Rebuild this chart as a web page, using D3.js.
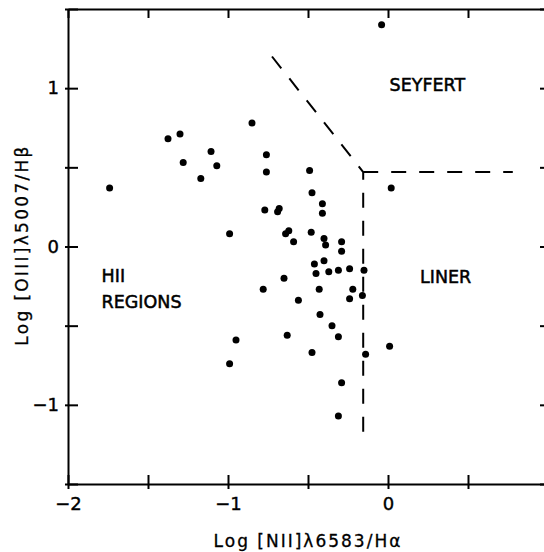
<!DOCTYPE html>
<html>
<head>
<meta charset="utf-8">
<script src="https://cdn.jsdelivr.net/npm/d3@7"></script>
<style>
  body { margin: 0; background: #fff; }
  svg { display: block; }
  text { font-family: 'DejaVu Sans', sans-serif; fill: #000; }
</style>
</head>
<body>
<svg id="chart" width="544" height="552"></svg>
<script>
// one entry per galaxy: log [NII]6583/Ha and log [OIII]5007/Hb
var logNII = [
  -0.04, -1.74, -1.375, -1.30, -1.28, -1.106, -1.07, -1.17, -0.85, -0.76,
  -0.76, -0.49, -0.475, 0.02, -0.41, -0.41, -0.77, -0.69, -0.68, -0.99,
  -0.64, -0.62, -0.59, -0.48, -0.40, -0.39, -0.29, -0.29, -0.46, -0.40,
  -0.45, -0.37, -0.31, -0.24, -0.15, -0.65, -0.78, -0.43, -0.22, -0.56,
  -0.24, -0.16, -0.425, -0.35, -0.63, -0.31, -0.95, -0.475, -0.14, -0.99,
  -0.29, -0.31, 0.01
]
var logOIII = [
  1.40, 0.37, 0.68, 0.71, 0.53, 0.60, 0.51, 0.43, 0.78, 0.58,
  0.47, 0.48, 0.34, 0.37, 0.27, 0.21, 0.23, 0.22, 0.24, 0.08,
  0.08, 0.10, 0.03, 0.09, 0.05, 0.01, 0.03, -0.03, -0.11, -0.09,
  -0.17, -0.16, -0.15, -0.14, -0.15, -0.20, -0.27, -0.27, -0.27, -0.34,
  -0.33, -0.31, -0.43, -0.50, -0.56, -0.57, -0.59, -0.67, -0.68, -0.74,
  -0.86, -1.07, -0.63
]

var xTicks = [-2, -1.5, -1, -0.5, 0, 0.5, 1]
var yTicks = [-1.5, -1, -0.5, 0, 0.5, 1, 1.5]
var xTickLabels = [-2, -1, 0]
var yTickLabels = [-1, 0, 1]

// classification boundaries
var seyfertBoundary = [[-0.725, 1.2], [-0.155, 0.47], [-0.155, -1.22]]
var linerBoundary = [[-0.155, 0.47], [0.78, 0.47]]

var regionNames = ['SEYFERT', 'LINER', 'HII', 'REGIONS']
var regionNII = [0.01, 0.2, -1.79, -1.79]
var regionOIII = [0.98, -0.23, -0.225, -0.39]

var svg = d3.select('#chart')
var x = d3.scaleLinear().domain([-2, 1]).range([68, 548])
var y = d3.scaleLinear().domain([-1.5, 1.5]).range([484, 9])
var fmt = d3.format('d')

function labelIf (list) {
  return function (d) { return list.indexOf(d) >= 0 ? fmt(d) : '' }
}

function styleAxis (g) {
  g.attr('font-family', 'DejaVu Sans, sans-serif').attr('font-size', 18)
  g.select('.domain').attr('stroke', '#000').attr('stroke-width', 2)
  g.selectAll('.tick line').attr('stroke', '#000').attr('stroke-width', 2)
  g.selectAll('.tick text').attr('fill', '#000')
    .attr('stroke', '#000').attr('stroke-width', 0.4)
}

// bottom axis, ticks cross the frame
svg.append('g')
  .attr('transform', 'translate(0,' + y(-1.5) + ')')
  .call(d3.axisBottom(x).tickValues(xTicks).tickSize(5).tickSizeOuter(0)
    .tickPadding(8).tickFormat(labelIf(xTickLabels)))
  .call(styleAxis)
  .call(function (g) { g.selectAll('.tick line').attr('y1', -9) })

// left axis
svg.append('g')
  .attr('transform', 'translate(' + x(-2) + ',0)')
  .call(d3.axisLeft(y).tickValues(yTicks).tickSize(3).tickSizeOuter(0)
    .tickPadding(6).tickFormat(labelIf(yTickLabels)))
  .call(styleAxis)
  .call(function (g) { g.selectAll('.tick line').attr('x1', 10) })

// top and right frame, inward ticks only
svg.append('g')
  .attr('transform', 'translate(0,' + y(1.5) + ')')
  .call(d3.axisTop(x).tickValues(xTicks).tickSize(-9).tickSizeOuter(0).tickFormat(''))
  .call(styleAxis)

svg.append('g')
  .attr('transform', 'translate(' + x(1) + ',0)')
  .call(d3.axisRight(y).tickValues(yTicks).tickSize(-8).tickSizeOuter(0).tickFormat(''))
  .call(styleAxis)

// dashed boundaries
var line = d3.line()
  .x(function (d) { return x(d[0]) })
  .y(function (d) { return y(d[1]) })

svg.selectAll('path.boundary')
  .data([seyfertBoundary, linerBoundary])
  .enter().append('path')
  .attr('class', 'boundary')
  .attr('d', line)
  .attr('fill', 'none')
  .attr('stroke', '#000')
  .attr('stroke-width', 2)
  .attr('stroke-dasharray', '15,13')

// galaxies
svg.selectAll('circle.galaxy')
  .data(d3.range(logNII.length))
  .enter().append('circle')
  .attr('class', 'galaxy')
  .attr('cx', function (i) { return x(logNII[i]) })
  .attr('cy', function (i) { return y(logOIII[i]) })
  .attr('r', 3.5)
  .attr('fill', '#000')

// region names
svg.selectAll('text.region')
  .data(regionNames)
  .enter().append('text')
  .attr('class', 'region')
  .attr('x', function (d, i) { return x(regionNII[i]) })
  .attr('y', function (d, i) { return y(regionOIII[i]) })
  .attr('font-size', 17.5)
  .attr('stroke', '#000')
  .attr('stroke-width', 0.5)
  .text(function (d) { return d })

// axis titles
svg.append('text')
  .attr('x', 308)
  .attr('y', 547)
  .attr('text-anchor', 'middle')
  .attr('font-size', 17)
  .attr('letter-spacing', 2)
  .attr('stroke', '#000')
  .attr('stroke-width', 0.3)
  .text('Log [NII]\u03bb6583/H\u03b1')

svg.append('text')
  .attr('transform', 'translate(28,245) rotate(-90)')
  .attr('text-anchor', 'middle')
  .attr('font-size', 17)
  .attr('letter-spacing', 2.3)
  .attr('stroke', '#000')
  .attr('stroke-width', 0.3)
  .text('Log [OIII]\u03bb5007/H\u03b2')
</script>
</body>
</html>
